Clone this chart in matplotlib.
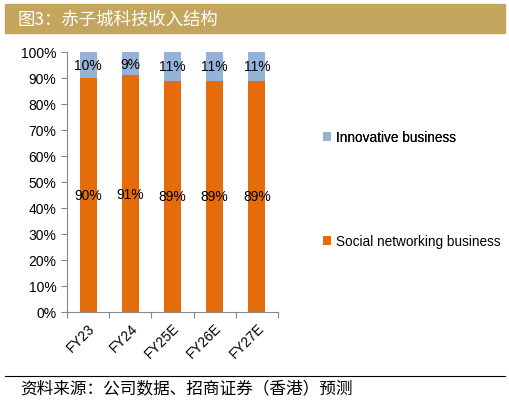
import matplotlib
matplotlib.use('Agg')
import matplotlib.pyplot as plt
from matplotlib.patches import Rectangle
from matplotlib.lines import Line2D
from matplotlib.ticker import FixedLocator, PercentFormatter

plt.rcParams['font.family'] = ['Liberation Sans', 'Noto Sans CJK SC', 'DejaVu Sans']

years = ['FY23', 'FY24', 'FY25E', 'FY26E', 'FY27E']
social = [90, 91, 89, 89, 89]
innovative = [10, 9, 11, 11, 11]

c_social = '#E46C0A'
c_innov = '#95B3D7'

fig = plt.figure(figsize=(5.1, 4.02), dpi=100)

# header band
fig.patches.append(Rectangle((5 / 510, 1 - 34 / 402), 500 / 510, 29 / 402,
                             transform=fig.transFigure, color='#C4A55E', zorder=0))
fig.text(18 / 510, 1 - 19.5 / 402, '图3：赤子城科技收入结构', color='white', fontsize=12.5,
         va='center', ha='left', family=['Noto Sans CJK SC', 'DejaVu Sans'])

ax = fig.add_axes([67 / 510, 89 / 402, 211 / 510, 260 / 402])
x = range(len(years))
ax.bar(x, social, width=0.4, color=c_social, label='Social networking business')
ax.bar(x, innovative, width=0.4, bottom=social, color=c_innov, label='Innovative business')

for i in x:
    ax.text(i, social[i] / 2, f'{social[i]}%', ha='center', va='center', fontsize=10)
    ax.text(i, social[i] + innovative[i] / 2, f'{innovative[i]}%', ha='center', va='center', fontsize=10)

ax.set_xlim(-0.5, len(years) - 0.5)
ax.set_ylim(0, 100)
ax.yaxis.set_major_locator(FixedLocator(range(0, 101, 10)))
ax.yaxis.set_major_formatter(PercentFormatter(decimals=0))
ax.set_xticks([i - 0.5 for i in range(len(years) + 1)])
ax.set_xticklabels([])
ax.set_xticks(list(x), minor=True)
ax.set_xticklabels(years, minor=True, rotation=45, ha='right', rotation_mode='anchor', fontsize=10)
ax.tick_params(axis='x', which='minor', length=0, pad=6)
ax.tick_params(axis='x', which='major', length=4, color='#888888')
ax.tick_params(axis='y', length=4, color='#888888', labelsize=10)
for s in ['top', 'right']:
    ax.spines[s].set_visible(False)
for s in ['left', 'bottom']:
    ax.spines[s].set_color('#888888')

# legend
h, l = ax.get_legend_handles_labels()
kw = dict(frameon=False, fontsize=9.8, handlelength=0.6, handleheight=0.6,
          handletextpad=0.35, borderpad=0, borderaxespad=0)
lg1 = fig.legend([h[1]], [l[1]], loc='center left', bbox_to_anchor=(323 / 510, 1 - 138 / 402), **kw)
lg2 = fig.legend([h[0]], [l[0]], loc='center left', bbox_to_anchor=(323 / 510, 1 - 242 / 402), **kw)
fig.add_artist(lg1)

# footer
fig.add_artist(Line2D([5 / 510, 505 / 510], [1 - 377 / 402, 1 - 377 / 402],
                      transform=fig.transFigure, color='black', lw=0.8))
fig.text(20 / 510, 1 - 389 / 402, '资料来源：公司数据、招商证券（香港）预测', fontsize=12,
         va='center', ha='left', style='italic', family=['Noto Sans CJK SC', 'DejaVu Sans'])

fig.savefig('out.png', dpi=100)
